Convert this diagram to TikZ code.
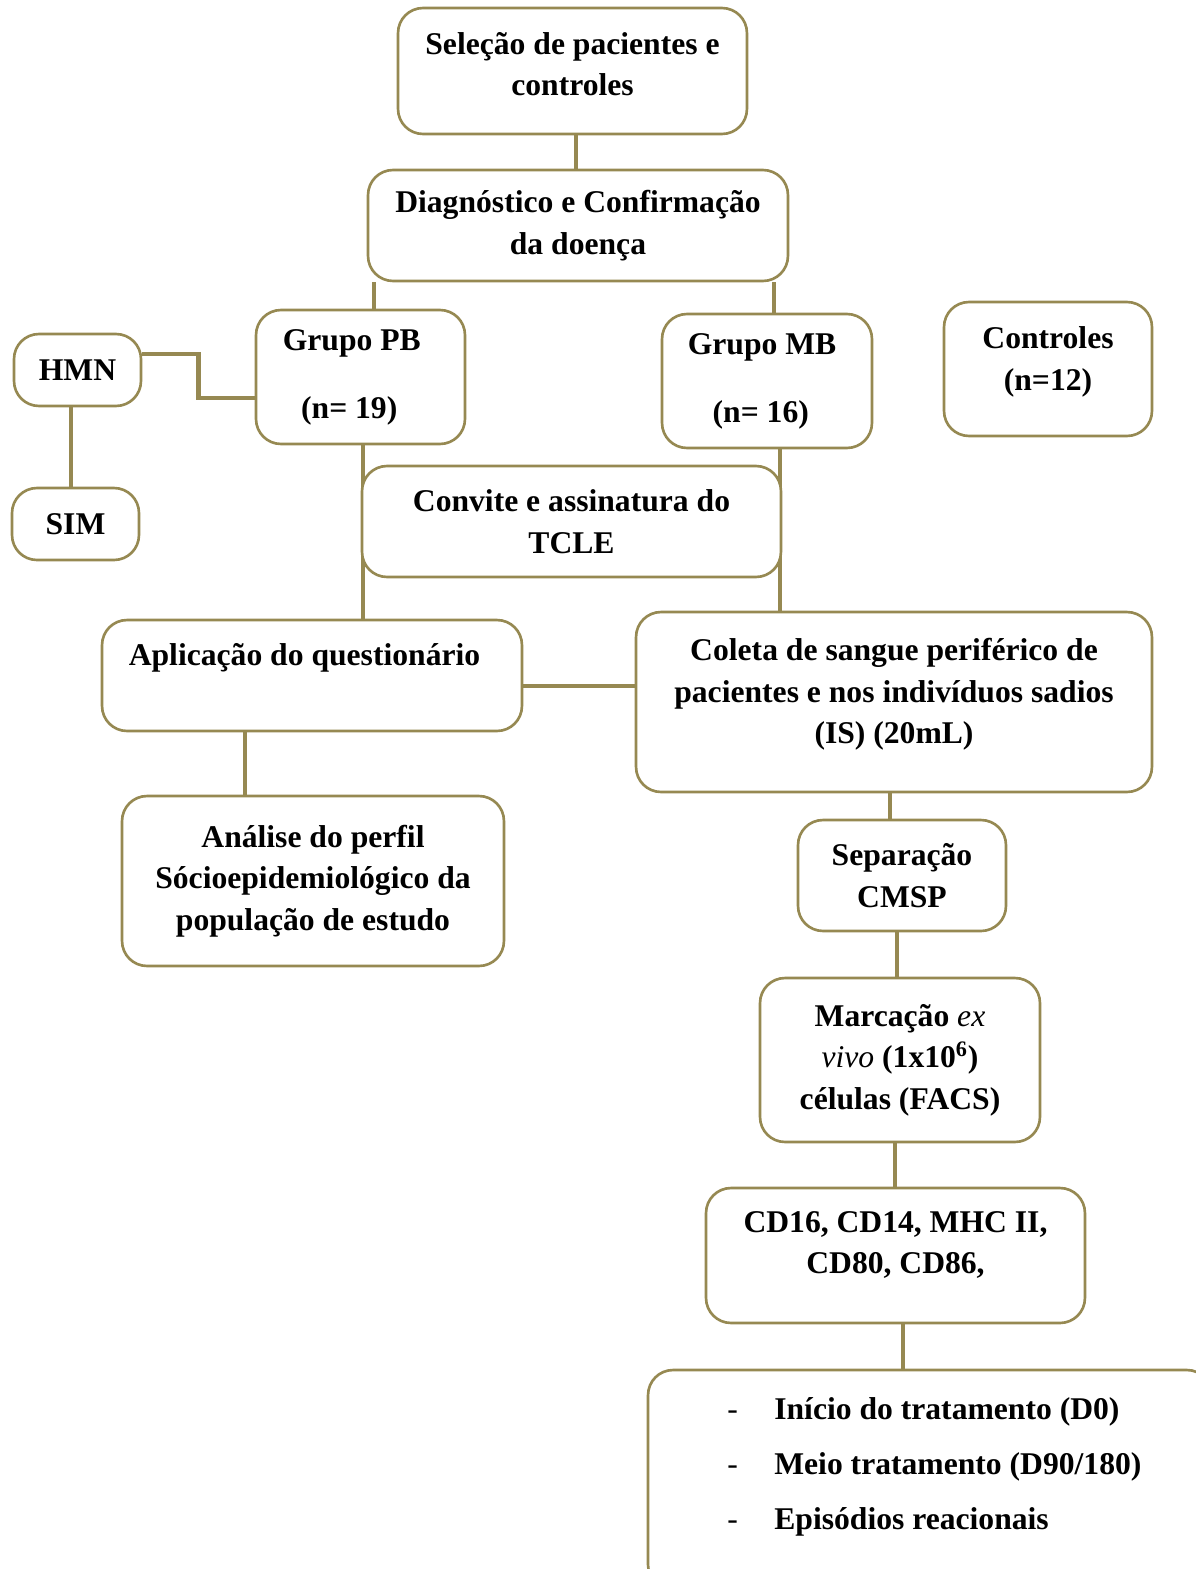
\documentclass[tikz,border=0pt]{standalone}
\usepackage{fontspec}
\setmainfont{Liberation Serif}
\usetikzlibrary{calc}
\definecolor{olivel}{RGB}{150,137,82}

\begin{document}
\begin{tikzpicture}[x=0.02cm, y=-0.02cm,
  box/.style={draw=olivel, line width=1.5pt, rounded corners=0.5cm,
              fill=white, align=center, inner sep=0pt,
              font=\fontsize{18}{23.6}\selectfont\bfseries},
  link/.style={draw=olivel, line width=2.8pt}]
  \useasboundingbox (0,0) rectangle (1196,1569);
  % draw boxes
  \node[box, minimum width=6.98cm, minimum height=2.52cm] (sel) at (572.5,71)
        {Seleção de pacientes e\\ controles\\[-0.55cm]\mbox{}};
  \node[box, minimum width=8.4cm, minimum height=2.22cm] (dia) at (578,225.5)
        {Diagnóstico e Confirmação\\ da doença};
  \node[box, minimum width=2.54cm, minimum height=1.44cm] (hmn) at (77.5,370) {HMN};
  \node[box, minimum width=2.54cm, minimum height=1.44cm] (sim) at (75.5,524) {SIM};
  \node[box, minimum width=4.18cm, minimum height=2.68cm] (pb) at (360.5,377)
        {Grupo PB\hspace*{0.35cm}\\[0.53cm] (n= 19)\hspace*{0.45cm}};
  \node[box, minimum width=4.2cm, minimum height=2.68cm] (mb) at (767,381)
        {Grupo MB\hspace*{0.2cm}\\[0.53cm] (n= 16)\hspace*{0.25cm}};
  \node[box, minimum width=4.16cm, minimum height=2.68cm] (ctl) at (1048,369)
        {Controles\\ (n=12)\\[-0.41cm]\mbox{}};
  \node[box, minimum width=8.4cm, minimum height=2.22cm] (apl) at (312,675.5)
        {Aplicação do questionário\hspace*{0.3cm}\\ \mbox{}};
  \node[box, minimum width=10.32cm, minimum height=3.6cm] (col) at (894,702)
        {Coleta de sangue periférico de\\ pacientes e nos indivíduos sadios\\
         (IS) (20mL)\\[-0.4cm]\mbox{}};
  \node[box, minimum width=7.64cm, minimum height=3.4cm] (ana) at (313,881)
        {Análise do perfil\\ Sócioepidemiológico da\\ população de estudo};
  \node[box, minimum width=4.16cm, minimum height=2.22cm] (sep) at (902,875.5)
        {Separação\\ CMSP};
  \node[box, minimum width=5.6cm, minimum height=3.28cm] (mar) at (900,1060)
        {Marcação {\mdseries\itshape ex}\\ {\mdseries\itshape vivo} (1x10\textsuperscript{6})\\
         células (FACS)};
  \node[box, minimum width=7.58cm, minimum height=2.7cm] (cd) at (895.5,1255.5)
        {CD16, CD14, MHC II,\\ CD80, CD86,\\[-0.3cm]\mbox{}};
  \node[box, minimum width=11.28cm, minimum height=4.4cm] (ini) at (930,1480) {};
  \node[anchor=west, align=left, inner sep=0pt,
        font=\fontsize{18}{31.2}\selectfont\bfseries] (lst) at (727,1467)
        {\makebox[0.94cm][l]{\mdseries -}Início do tratamento (D0)\\
         \makebox[0.94cm][l]{\mdseries -}Meio tratamento (D90/180)\\
         \makebox[0.94cm][l]{\mdseries -}Episódios reacionais};
  % draw lines
  \draw[link] (sel.south -| 576,0) -- (dia.north -| 576,0);
  \draw[link] (dia.south -| 374,0) -- (pb.north -| 374,0);
  \draw[link] (dia.south -| 774,0) -- (mb.north -| 774,0);
  \draw[link] (hmn.east |- 0,354) -| ($(hmn.east)!0.5!(pb.west)$)
        |- (pb.west |- 0,398);
  \draw[link] (hmn.south -| 71,0) -- (sim.north -| 71,0);
  \draw[link] (pb.south -| 363,0) -- (apl.north -| 363,0);
  \draw[link] (mb.south -| 780,0) -- (col.north -| 780,0);
  \draw[link] (apl.east |- 0,686) -- (col.west |- 0,686);
  \draw[link] (apl.south -| 245,0) -- (ana.north -| 245,0);
  \draw[link] (col.south -| 890,0) -- (sep.north -| 890,0);
  \draw[link] (sep.south -| 897,0) -- (mar.north -| 897,0);
  \draw[link] (mar.south -| 895,0) -- (cd.north -| 895,0);
  \draw[link] (cd.south -| 903,0) -- (ini.north -| 903,0);
  % box over the two lines
  \node[box, minimum width=8.38cm, minimum height=2.22cm] (cvt) at (571.5,521.5)
        {Convite e assinatura do\\ TCLE};
\end{tikzpicture}
\end{document}
